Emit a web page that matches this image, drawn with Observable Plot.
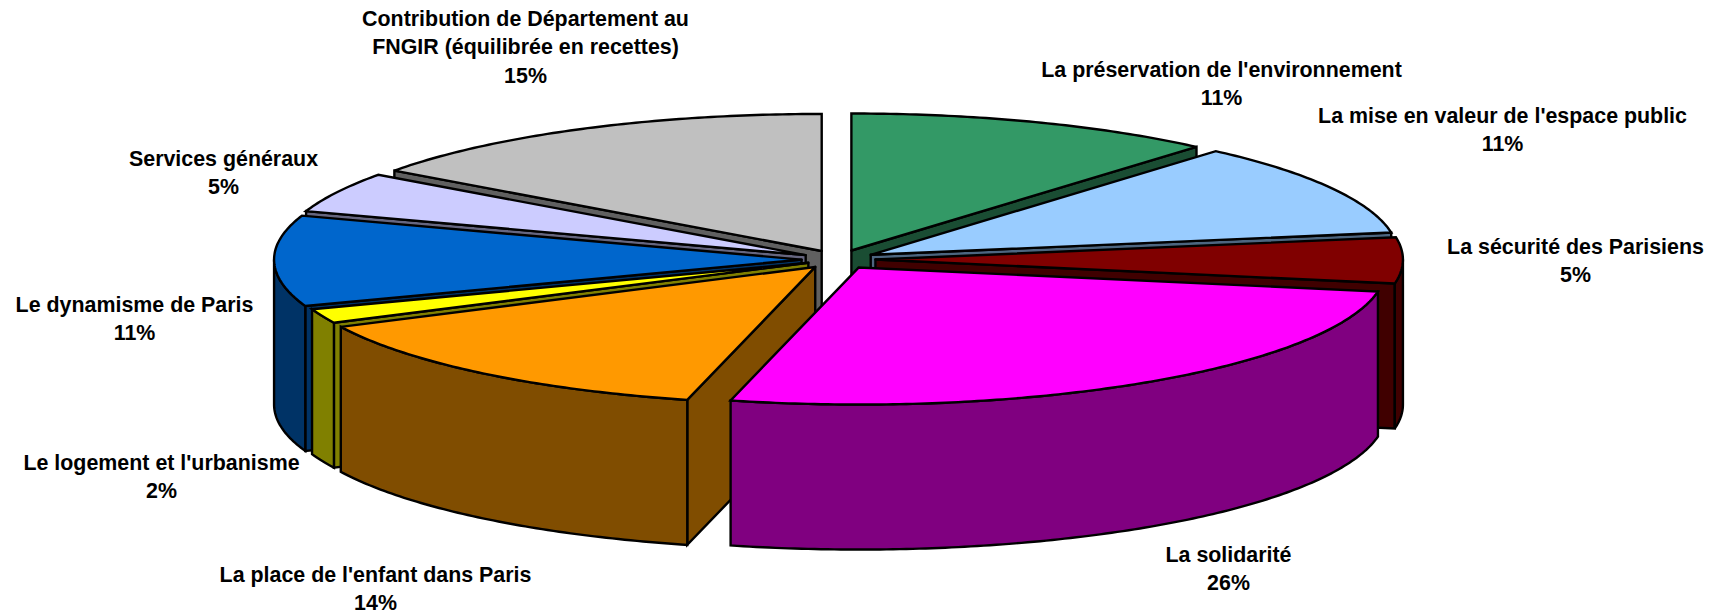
<!DOCTYPE html>
<html lang="fr">
<head>
<meta charset="utf-8">
<title>Répartition du budget</title>
<script src="https://cdn.jsdelivr.net/npm/d3@7"></script>
<script src="https://cdn.jsdelivr.net/npm/@observablehq/plot@0.6"></script>
<style>
  html, body { margin: 0; padding: 0; background: #fff; }
  svg { display: block; }
</style>
</head>
<body>
<div id="chart"></div>
<script>
// Categories, clockwise from 12 o'clock
const categories = [
  "La préservation de l'environnement",
  "La mise en valeur de l'espace public",
  "La sécurité des Parisiens",
  "La solidarité",
  "La place de l'enfant dans Paris",
  "Le logement et l'urbanisme",
  "Le dynamisme de Paris",
  "Services généraux",
  "Contribution de Département au\nFNGIR (équilibrée en recettes)"
];
const shares = [11.35, 11.05, 5.4, 26.1, 13.9, 1.7, 10.7, 4.77, 15.03];
const percentLabels = ["11%", "11%", "5%", "26%", "14%", "2%", "11%", "5%", "15%"];
const topColors = ["#339966", "#99CCFF", "#800000", "#FF00FF", "#FF9900", "#FFFF00", "#0066CC", "#CCCCFF", "#C0C0C0"];
const sideColors = ["#1A4D33", "#4D6680", "#400000", "#800080", "#804D00", "#808000", "#003366", "#666680", "#606060"];
const explosions = [0.07, 0.07, 0.07, 0.07, 0.07, 0.062, 0.07, 0.07, 0.07];
// Label layout, in chart units
const labelX = [1221, 1502, 1575, 1228, 375, 161, 134, 223, 525];
const labelY = [81.5, 127.5, 258.5, 567, 587, 474.5, 316.5, 170.5, 45];
// Pie layout
const pie = {cx: 838, cy: 259, rx: 527.5, ry: 137, depth: 145};
// Painter's order: back-left, then back-right, the large front slice last
const drawOrder = [8, 7, 6, 5, 4, 0, 1, 2, 3];

const starts = d3.cumsum([0, ...shares]);
const rad = (pct) => pct / 100 * 2 * Math.PI;
const polygons = [];
function addPolygon(id, color, pts) {
  [...pts, pts[0]].forEach(([x, y]) => polygons.push({id, color, x, y}));
}
function arcPoints(apex, a0, a1) {
  const n = Math.max(2, Math.ceil((a1 - a0) * 80));
  return d3.range(n + 1).map((i) => {
    const a = a0 + (a1 - a0) * i / n;
    return [apex[0] + pie.rx * Math.sin(a), apex[1] - pie.ry * Math.cos(a)];
  });
}
const down = ([x, y]) => [x, y + pie.depth];
for (const i of drawOrder) {
  const a0 = rad(starts[i]), a1 = rad(starts[i + 1]), mid = (a0 + a1) / 2;
  const apex = [
    pie.cx + explosions[i] * pie.rx * Math.sin(mid),
    pie.cy - explosions[i] * pie.ry * Math.cos(mid)
  ];
  const rim = arcPoints(apex, a0, a1);
  const first = rim[0], last = rim[rim.length - 1];
  // Only the cut faces turned towards the viewer
  if (Math.sin(a0) < -1e-9) addPolygon(`wall-a-${i}`, sideColors[i], [apex, first, down(first), down(apex)]);
  if (Math.sin(a1) > 1e-9) addPolygon(`wall-b-${i}`, sideColors[i], [apex, last, down(last), down(apex)]);
  const f0 = Math.max(a0, Math.PI / 2), f1 = Math.min(a1, Math.PI * 1.5);
  if (f1 > f0) {
    const front = arcPoints(apex, f0, f1);
    addPolygon(`front-${i}`, sideColors[i], [...front, ...front.slice().reverse().map(down)]);
  }
  addPolygon(`top-${i}`, topColors[i], [apex, ...rim]);
}

const labels = categories.map((c, i) => ({
  text: `${c}\n${percentLabels[i]}`, x: labelX[i], y: labelY[i]
}));

const chart = Plot.plot({
  width: 1722,
  height: 614,
  margin: 0,
  style: {background: "#fff"},
  x: {axis: null, domain: [0, 1722], range: [0, 1722]},
  y: {axis: null, domain: [0, 614], range: [0, 614]},
  color: {type: "identity"},
  marks: [
    Plot.line(polygons, {
      x: "x", y: "y", z: "id", fill: "color",
      stroke: "#000", strokeWidth: 2.4, strokeLinejoin: "miter", strokeMiterlimit: 3
    }),
    Plot.text(labels, {
      x: "x", y: "y", text: "text",
      fontFamily: "Liberation Sans, Arial, sans-serif",
      fontWeight: "bold", fontSize: 21.4, lineHeight: 1.31, fill: "#000"
    })
  ]
});
document.getElementById("chart").append(chart);
</script>
</body>
</html>
